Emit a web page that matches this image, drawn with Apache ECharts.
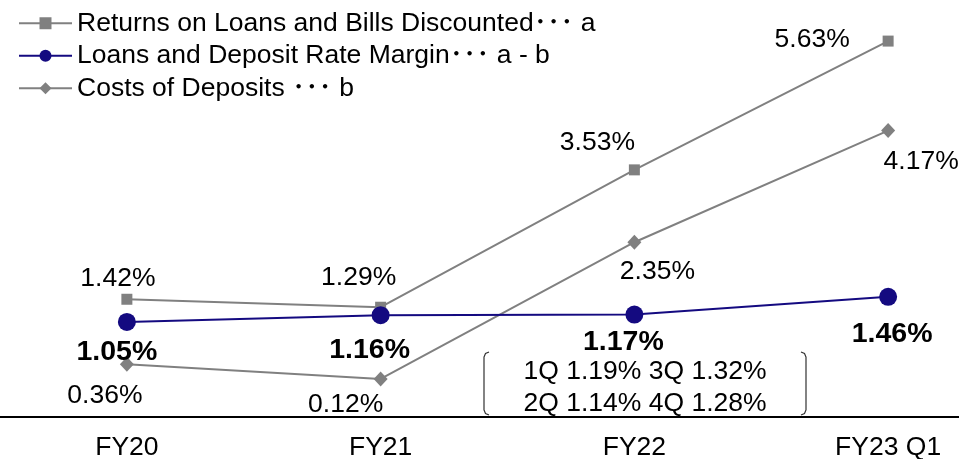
<!DOCTYPE html>
<html>
<head>
<meta charset="utf-8">
<script src="https://cdn.jsdelivr.net/npm/echarts@6/dist/echarts.min.js"></script>
<style>
  html, body { margin: 0; padding: 0; background: #fff; }
  #chart { width: 959px; height: 459px; }
</style>
</head>
<body>
<div id="chart"></div>
<script>
// Fiscal periods on the x axis
const categories = ['FY20', 'FY21', 'FY22', 'FY23 Q1'];

// Rates in percent
const returnsOnLoans = [1.42, 1.29, 3.53, 5.63];   // a
const rateMargin = [1.05, 1.16, 1.17, 1.46];       // a - b
const depositCosts = [0.36, 0.12, 2.35, 4.17];     // b

// Quarterly breakdown of the FY22 margin
const fy22Quarters = [
  ['1Q', 1.19], ['3Q', 1.32],
  ['2Q', 1.14], ['4Q', 1.28]
];

const seriesNames = [
  'Returns on Loans and Bills Discounted･･･ a',
  'Loans and Deposit Rate Margin･･･ a - b',
  'Costs of Deposits ･･･ b'
];

// Label placement around each point (pixels from the marker centre)
const returnsLabelOffsets = [[-9, -21], [-22, -30], [-37, -27], [-76, -1]];
const marginLabelOffsets = [[-10, 30], [-11, 35], [-11, 28], [4, 37]];
const costsLabelOffsets = [[-22, 31], [-35, 26], [23, 29], [33, 31]];

const FONT = 'Arial, "Liberation Sans", "Noto Sans CJK JP", sans-serif';
const GRAY = '#808080';
const NAVY = '#140a80';
const FS = 26.5;

function pct(v) { return v.toFixed(2) + '%'; }

function withOffsets(values, offsets) {
  return values.map((v, i) => ({ value: v, label: { offset: offsets[i] } }));
}

const chart = echarts.init(document.getElementById('chart'), null, { renderer: 'canvas' });

const q = fy22Quarters.map(([k, v]) => k + ' ' + pct(v));

chart.setOption({
  animation: false,
  backgroundColor: '#ffffff',
  textStyle: { fontFamily: FONT },
  legend: {
    orient: 'vertical',
    left: 13,
    top: 5,
    itemWidth: 53,
    itemHeight: 15,
    itemGap: 6,
    textStyle: { fontFamily: FONT, fontSize: FS, color: '#000', lineHeight: 26 },
    data: seriesNames
  },
  grid: { left: 0, top: 0, width: 1015, height: 417, containLabel: false, outerBoundsMode: 'none' },
  xAxis: {
    type: 'category',
    data: categories,
    boundaryGap: true,
    axisLine: { onZero: false, lineStyle: { color: '#000', width: 2 } },
    axisTick: { show: false },
    axisLabel: { fontFamily: FONT, fontSize: FS, color: '#000', margin: 17 }
  },
  yAxis: {
    type: 'value',
    min: -0.5,
    max: 6.3,
    show: false,
    splitLine: { show: false }
  },
  series: [
    {
      name: seriesNames[0],
      type: 'line',
      data: withOffsets(returnsOnLoans, returnsLabelOffsets),
      symbol: 'rect',
      symbolSize: 11,
      itemStyle: { color: GRAY },
      lineStyle: { color: GRAY, width: 2 },
      z: 2,
      label: {
        show: true, position: 'inside', formatter: p => pct(p.value),
        fontFamily: FONT, fontSize: FS, color: '#000'
      }
    },
    {
      name: seriesNames[1],
      type: 'line',
      data: withOffsets(rateMargin, marginLabelOffsets),
      symbol: 'circle',
      symbolSize: 18,
      itemStyle: { color: NAVY },
      lineStyle: { color: NAVY, width: 2 },
      z: 4,
      label: {
        show: true, position: 'inside', formatter: p => pct(p.value),
        fontFamily: FONT, fontSize: 28.5, fontWeight: 'bold', color: '#000'
      }
    },
    {
      name: seriesNames[2],
      type: 'line',
      data: withOffsets(depositCosts, costsLabelOffsets),
      symbol: 'diamond',
      symbolSize: [14, 15],
      itemStyle: { color: GRAY },
      lineStyle: { color: GRAY, width: 2 },
      z: 3,
      label: {
        show: true, position: 'inside', formatter: p => pct(p.value),
        fontFamily: FONT, fontSize: FS, color: '#000'
      }
    }
  ],
  graphic: [
    {
      type: 'text',
      x: 645, y: 356,
      style: {
        text: q[0] + ' ' + q[1] + '\n' + q[2] + ' ' + q[3],
        font: FS + 'px ' + FONT,
        fill: '#000',
        align: 'center',
        verticalAlign: 'top',
        lineHeight: 32
      }
    },
    {
      type: 'polyline',
      shape: { points: [[489, 352], [485.5, 353.5], [484, 357], [484, 410], [485.5, 413.5], [489, 415]] },
      style: { stroke: '#333', lineWidth: 1.2, fill: null }
    },
    {
      type: 'polyline',
      shape: { points: [[801, 352], [804.5, 353.5], [806, 357], [806, 410], [804.5, 413.5], [801, 415]] },
      style: { stroke: '#333', lineWidth: 1.2, fill: null }
    }
  ]
});
</script>
</body>
</html>
